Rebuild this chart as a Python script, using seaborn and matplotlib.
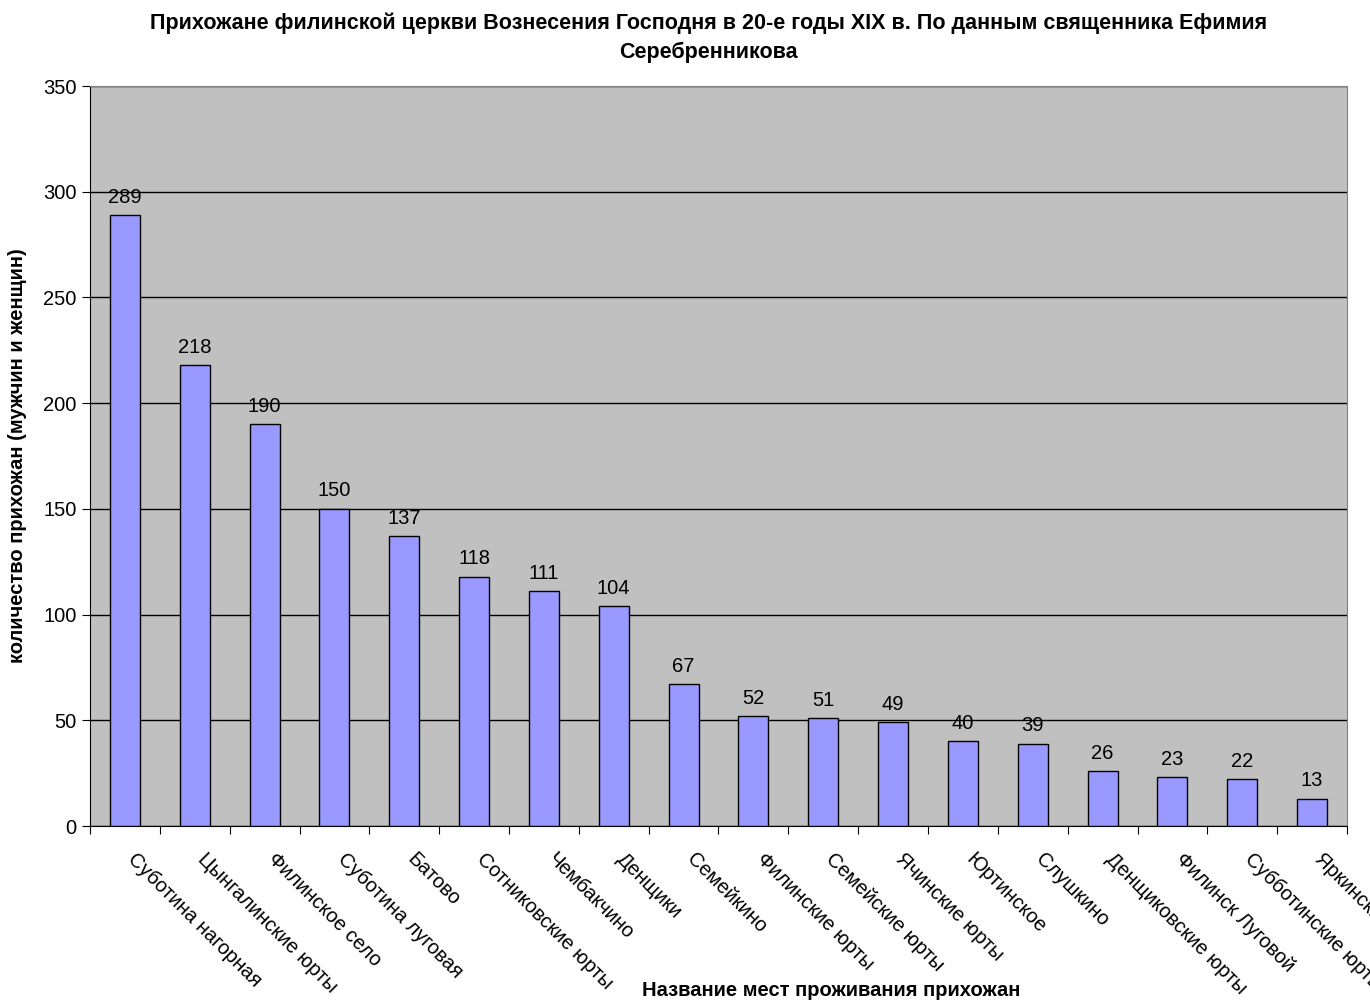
import numpy as np
import pandas as pd
import matplotlib
matplotlib.use("Agg")
import matplotlib.pyplot as plt
import seaborn as sns

places = ["Суботина нагорная", "Цынгалинские юрты", "Филинское село", "Суботина луговая",
          "Батово", "Сотниковские юрты", "Чембакчино", "Денщики", "Семейкино",
          "Филинские юрты", "Семейские юрты", "Ячинские юрты", "Юртинское", "Слушкино",
          "Денщиковские юрты", "Филинск Луговой", "Субботинские юрты", "Яркинские юрты"]
counts = [289, 218, 190, 150, 137, 118, 111, 104, 67, 52, 51, 49, 40, 39, 26, 23, 22, 13]

sns.set_style("white")
plt.rcParams['font.family'] = ['Liberation Sans', 'DejaVu Sans']
plt.rcParams['text.color'] = 'black'
plt.rcParams['axes.labelcolor'] = 'black'
plt.rcParams['xtick.color'] = 'black'
plt.rcParams['ytick.color'] = 'black'

df = pd.DataFrame({"place": places, "count": counts})

fig = plt.figure(figsize=(13.7, 10.02), dpi=100)
ax = fig.add_axes([90/1370, 1-826/1002, (1347-90)/1370, (826-86)/1002])
ax.set_facecolor("#C0C0C0")

sns.barplot(data=df, x="place", y="count", color="#9999FF", saturation=1,
            width=0.43, edgecolor="black", linewidth=1, ax=ax, zorder=3)

ax.set_ylim(0, 350)
ax.set_xlim(-0.5, len(places) - 0.5)
ax.set_yticks(np.arange(0, 351, 50))
ax.yaxis.grid(True, color="black", linewidth=1)
ax.set_axisbelow(True)
for sp in ["top", "right"]:
    ax.spines[sp].set_color("#808080")
for sp in ["left", "bottom"]:
    ax.spines[sp].set_color("black")

# bar values
for i, v in enumerate(counts):
    ax.text(i, v + 4, str(v), ha="center", va="bottom", fontsize=14.5)

# x ticks sit between the categories
ax.set_xticks(np.arange(-0.5, len(places), 1))
ax.set_xticklabels([])
ax.tick_params(axis="x", direction="out", length=6, color="black", bottom=True)
ax.tick_params(axis="y", direction="out", length=6, color="black", left=True, labelsize=14.5)
for i, name in enumerate(places):
    ax.text(i + 0.18, -11, name, rotation=-45, rotation_mode="anchor",
            ha="left", va="top", fontsize=14.5, clip_on=False)

ax.set_xlabel("")
ax.set_ylabel("количество прихожан (мужчин и женщин)", fontsize=14.5, fontweight="bold", labelpad=12)
fig.text(0.607, 1 - 990/1002, "Название мест проживания прихожан", ha="center", va="center",
         fontsize=14.5, fontweight="bold")
fig.text(0.517, 1 - 37.5/1002, "Прихожане филинской церкви Вознесения Господня в 20-е годы XIX в. По данным священника Ефимия\nСеребренникова",
         ha="center", va="center", fontsize=15.5, fontweight="bold", linespacing=1.45)

fig.savefig("out.png", dpi=100)
